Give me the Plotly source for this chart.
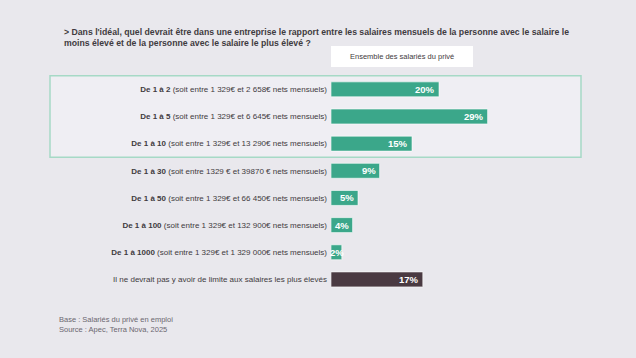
import plotly.graph_objects as go

# ---- data ----
bold_parts = ["De 1 à 2", "De 1 à 5", "De 1 à 10", "De 1 à 30", "De 1 à 50",
              "De 1 à 100", "De 1 à 1000", ""]
detail_parts = [
    "(soit entre 1 329€ et 2 658€ nets mensuels)",
    "(soit entre 1 329€ et 6 645€ nets mensuels)",
    "(soit entre 1 329€ et 13 290€ nets mensuels)",
    "(soit entre 1329 € et 39870 € nets mensuels)",
    "(soit entre 1 329€ et 66 450€ nets mensuels)",
    "(soit entre 1 329€ et 132 900€ nets mensuels)",
    "(soit entre 1 329€ et 1 329 000€ nets mensuels)",
    "Il ne devrait pas y avoir de limite aux salaires les plus élevés",
]
values = [20, 29, 15, 9, 5, 4, 2, 17]
series_name = "Ensemble des salariés du privé"
title_text = ("> Dans l'idéal, quel devrait être dans une entreprise le rapport entre les salaires "
              "mensuels de la personne avec le salaire le<br>moins élevé et de la personne avec le "
              "salaire le plus élevé ?")
footnote = "Base : Salariés du privé en emploi<br>Source : Apec, Terra Nova, 2025"

# ---- styling ----
BG = "#e9e8ed"
TEAL = "#3ba78a"
DARK = "#4a3a42"
TXT = "#3f3b40"
FONT = "Liberation Sans"

keys = [f"c{i}" for i in range(len(values))]
ticktext = [(f"<b>{b}</b> {d}" if b else d) for b, d in zip(bold_parts, detail_parts)]
colors = [TEAL] * (len(values) - 1) + [DARK]

fig = go.Figure(go.Bar(
    x=values, y=keys, orientation="h",
    marker=dict(color=colors, line=dict(color="rgba(255,255,255,0.6)", width=1)),
    width=0.55,
    hoverinfo="skip",
))

W, H = 636, 358
L, R, T, B = 331, 55, 75, 65
plot_w = W - L - R
px_per_pct = 5.4
fig.update_layout(
    width=W, height=H,
    margin=dict(l=L, r=R, t=T, b=B),
    paper_bgcolor=BG, plot_bgcolor="rgba(0,0,0,0)",
    showlegend=False,
    font=dict(family=FONT, color=TXT),
    xaxis=dict(range=[0, plot_w / px_per_pct], visible=False, fixedrange=True),
    yaxis=dict(type="category", autorange="reversed", tickvals=keys, ticktext=ticktext,
               showgrid=False, zeroline=False, showline=False, ticks="",
               tickfont=dict(size=8, color=TXT, family=FONT), ticklabelstandoff=3,
               fixedrange=True),
)

# value labels (white, bold, at the end of each bar)
for k, v in zip(keys, values):
    small = v * px_per_pct < 20
    fig.add_annotation(x=0 if small else v, y=k, xref="x", yref="y", text=f"<b>{v}%</b>",
                       showarrow=False, xanchor="left" if small else "right",
                       xshift=-2 if small else -3, borderpad=0,
                       font=dict(size=9.5, color="white", family=FONT))

def px_x(p):
    return (p - L) / plot_w

def px_y(p):
    return (H - B - p) / (H - T - B)

# highlight box behind top three rows
fig.add_shape(type="rect", xref="paper", yref="y", x0=px_x(50), x1=px_x(581),
              y0=-0.5, y1=2.5, fillcolor="#efeef3",
              line=dict(color="#a6d9c6", width=1.5), layer="below")

# series header box
fig.add_shape(type="rect", xref="paper", yref="paper", x0=px_x(331), x1=px_x(473),
              y0=px_y(67), y1=px_y(46), fillcolor="white", line=dict(width=0), layer="below")
fig.add_annotation(xref="paper", yref="paper", x=px_x(402), y=px_y(56.5),
                   text=series_name, showarrow=False, xanchor="center", yanchor="middle",
                   font=dict(size=7.5, color=TXT, family=FONT))

# title
fig.add_annotation(xref="paper", yref="paper", x=px_x(62), y=px_y(25), xanchor="left",
                   yanchor="top", align="left", showarrow=False, text=f"<b>{title_text}</b>",
                   font=dict(size=8.7, color=TXT, family=FONT))

# footnote
fig.add_annotation(xref="paper", yref="paper", x=px_x(57), y=px_y(313), xanchor="left",
                   yanchor="top", align="left", showarrow=False, text=footnote,
                   font=dict(size=7.5, color="#6b6770", family=FONT))

fig.write_html("out.html", config={"displayModeBar": False, "staticPlot": True},
               post_script="document.body.style.margin='0';")
